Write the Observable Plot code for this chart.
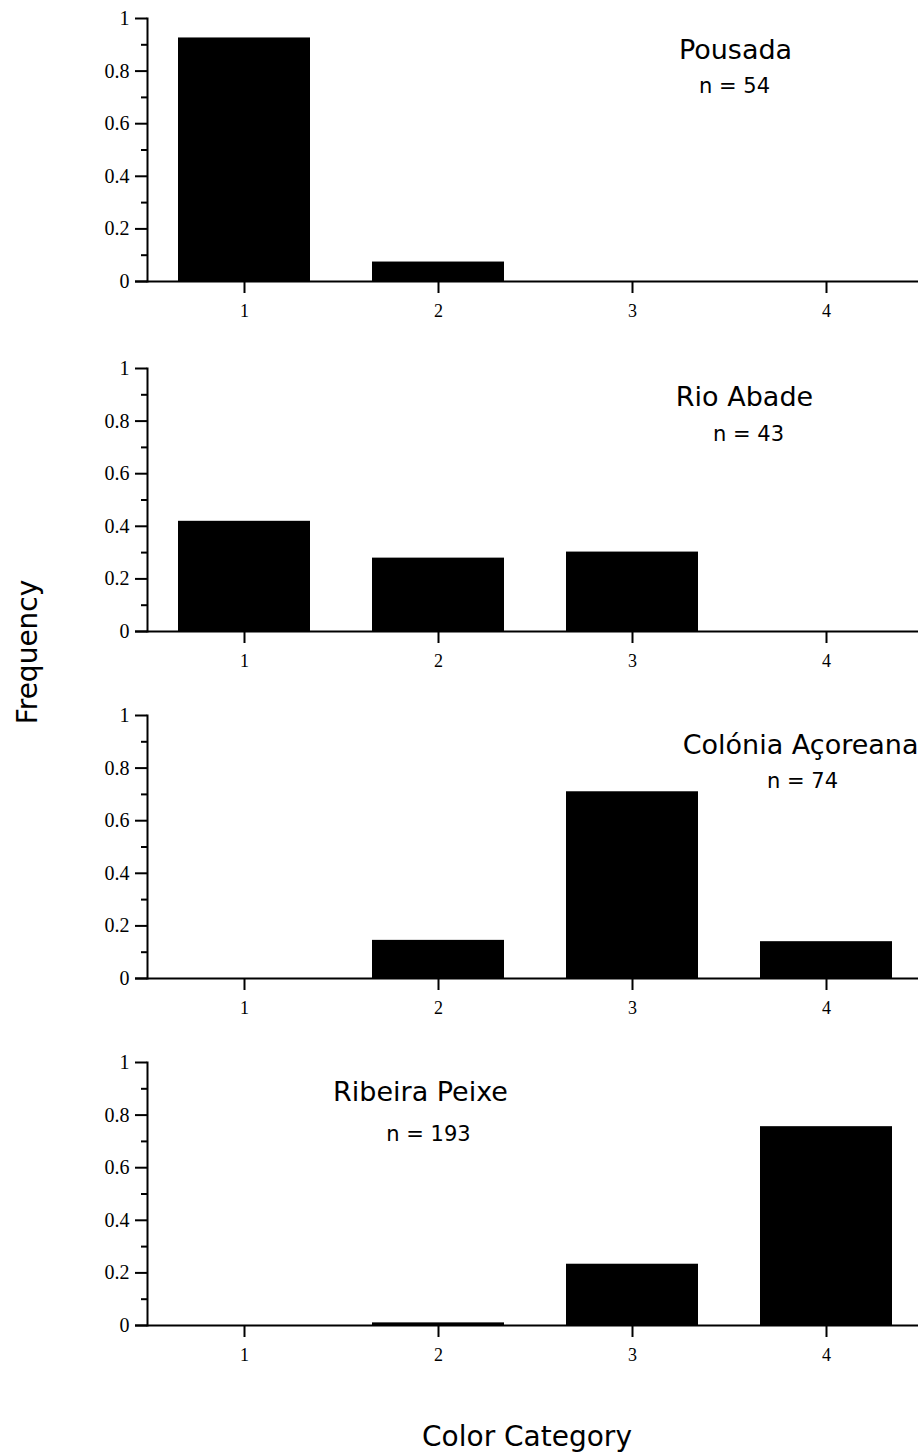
<!DOCTYPE html>
<html><head><meta charset="utf-8">
<script src="https://cdn.jsdelivr.net/npm/d3@7"></script>
<script src="https://cdn.jsdelivr.net/npm/@observablehq/plot@0.6"></script>
<style>
body{margin:0;background:#fff;}
#chart{position:relative;width:918px;height:1454px;overflow:hidden;background:#fff;}
.panel{position:absolute;left:0;}
#ylab{position:absolute;left:27px;top:652px;transform:translate(-50%,-50%) rotate(-90deg);font:28px "DejaVu Sans";white-space:nowrap;color:#000;}
#xlab{position:absolute;left:527px;top:1436px;transform:translate(-50%,-50%);font:28px "DejaVu Sans";white-space:nowrap;color:#000;}
</style></head>
<body><div id="chart"><div id="ylab">Frequency</div><div id="xlab">Color Category</div></div>
<script>
// ---- data ----
const categories = ["1", "2", "3", "4"];
const siteNames = ["Pousada", "Rio Abade", "Colónia Açoreana", "Ribeira Peixe"];
const sampleSizes = [54, 43, 74, 193];
const freqPousada = [0.926, 0.074, 0, 0];
const freqRioAbade = [0.419, 0.279, 0.302, 0];
const freqColonia = [0, 0.145, 0.71, 0.14];
const freqRibeira = [0, 0.010, 0.233, 0.756];
const yTicks = [0, 0.2, 0.4, 0.6, 0.8, 1];
const yMinorTicks = [0.1, 0.3, 0.5, 0.7, 0.9];

const seriesList = [freqPousada, freqRioAbade, freqColonia, freqRibeira];

// ---- layout (pixels) ----
const layout = [
  {top: 0,    nameX: 735, nameY: 58, nameAnchor: "middle", nX: 734, nY: 92},
  {top: 350,  nameX: 744, nameY: 55, nameAnchor: "middle", nX: 748, nY: 90},
  {top: 697,  nameX: 918, nameY: 56, nameAnchor: "end",    nX: 802, nY: 90},
  {top: 1044, nameX: 420, nameY: 56, nameAnchor: "middle", nX: 428, nY: 96}
];
const ML = 147, MT = 18;
const sans = "DejaVu Sans";
const serif = "Liberation Serif";

const chart = document.getElementById("chart");

seriesList.forEach((vals, i) => {
  const rows = categories.map((c, j) => ({cat: c, freq: vals[j]}));
  const L = layout[i];
  const svg = Plot.plot({
    width: 918,
    height: 347,
    marginLeft: ML,
    marginRight: 0,
    marginTop: MT,
    marginBottom: 66,
    style: {background: "transparent", overflow: "visible", color: "black", fontSize: "20px", fontFamily: serif},
    x: {type: "band", domain: categories, range: [146, 923], paddingInner: 0.32, paddingOuter: 0.16, axis: null},
    y: {domain: [0, 1], axis: null},
    marks: [
      Plot.barY(rows, {x: "cat", y: "freq", fill: "black"}),
      Plot.ruleY([0], {insetLeft: -12, strokeWidth: 2, stroke: "black"}),
      Plot.frame({anchor: "left", strokeWidth: 2, stroke: "black"}),
      Plot.axisY(yTicks, {tickSize: 12, tickPadding: 6, strokeWidth: 2, stroke: "black", fill: "black",
        fontSize: 20, fontFamily: serif, tickFormat: d => String(d), label: null}),
      Plot.axisY(yMinorTicks, {tickSize: 6, strokeWidth: 2, stroke: "black", fill: "none", label: null}),
      Plot.axisX(categories, {tickSize: 12, tickPadding: 11, strokeWidth: 2, stroke: "black", fill: "black",
        fontSize: 18, fontFamily: serif, label: null}),
      Plot.text([siteNames[i]], {frameAnchor: "top-left", dx: L.nameX - ML, dy: L.nameY - MT,
        lineAnchor: "bottom", textAnchor: L.nameAnchor, fontSize: 27, fontFamily: sans, fill: "black"}),
      Plot.text([`n = ${sampleSizes[i]}`], {frameAnchor: "top-left", dx: L.nX - ML, dy: L.nY - MT,
        lineAnchor: "bottom", textAnchor: "middle", fontSize: 21, fontFamily: sans, fill: "black"})
    ]
  });
  svg.classList.add("panel");
  svg.style.top = L.top + "px";
  chart.appendChild(svg);
});
</script>
</body></html>
